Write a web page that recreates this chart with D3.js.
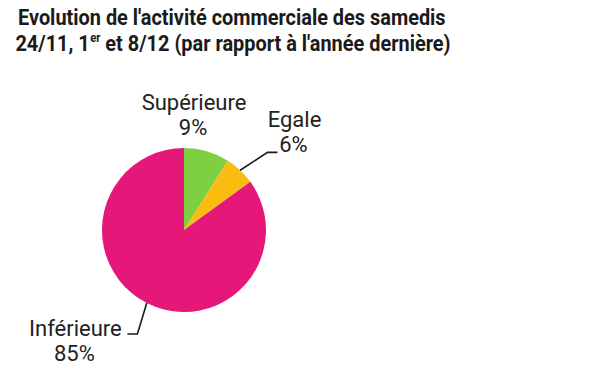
<!DOCTYPE html>
<html>
<head>
<meta charset="utf-8">
<script src="https://cdn.jsdelivr.net/npm/d3@7"></script>
<style>
  body { margin: 0; background: #fff; }
  svg { display: block; font-family: Roboto, "Noto Sans", sans-serif; }
  text { white-space: pre; }
</style>
</head>
<body>
<div class="chart"></div>
<script>
const categories = ['Supérieure', 'Egale', 'Inférieure'];
const values = [9, 6, 85];
const colors = ['#7fd041', '#fbbc12', '#e5187a'];

const w = 600, h = 372;
const r = 82;
const cx = 184, cy = 230;

const svg = d3.select('.chart').append('svg').attr('width', w).attr('height', h);
svg.append('rect').attr('width', w).attr('height', h).attr('fill', '#fff');

// title: two lines, squeezed horizontally to the original width
const title = svg.append('g').attr('font-weight', 700).attr('font-size', 23).attr('fill', '#1a1a1a');
const line1 = title.append('text').attr('x', 0).attr('y', 25)
  .text("Evolution de l'activité commerciale des samedis");
const sx = 428 / line1.node().getComputedTextLength();
title.attr('transform', `translate(18,0) scale(${sx},1)`);

let x2 = -3;
const a = title.append('text').attr('x', x2).attr('y', 51).text('24/11, 1');
x2 += a.node().getComputedTextLength() + 0.5;
const sup = title.append('text').attr('x', x2).attr('y', 42).attr('font-size', 13).text('er');
x2 += sup.node().getComputedTextLength();
title.append('text').attr('x', x2).attr('y', 51).text(" et 8/12 (par rapport à l'année dernière)");

const data = categories.map((c, i) => ({ label: c, value: values[i], color: colors[i] }));

const pie = d3.pie().sort(null).value(d => d.value);
const arc = d3.arc().innerRadius(0).outerRadius(r);
const edge = d3.arc().innerRadius(r).outerRadius(r);
const outer = d3.arc().innerRadius(r + 32).outerRadius(r + 32);

const g = svg.append('g').attr('transform', `translate(${cx},${cy})`);
const arcs = pie(data);

g.selectAll('path.slice')
  .data(arcs)
  .enter().append('path')
  .attr('class', 'slice')
  .attr('fill', d => d.data.color)
  .attr('d', arc);

// label layout per slice: leader line or not, and text offsets
const labelCfg = {
  'Supérieure': { line: false, dx: 10, dy: -120 },
  'Egale': { line: true, side: 1, angleShift: 0.068, tx: 17, ty: -25 },
  'Inférieure': { line: true, side: -1, angleShift: -0.05, tx: -52, ty: 2 }
};

arcs.forEach(d => {
  const cfg = labelCfg[d.data.label];
  const mid = (d.startAngle + d.endAngle) / 2;
  const lbl = g.append('g').attr('font-size', 22).attr('fill', '#222').attr('text-anchor', 'middle');
  let lx, ly;
  if (!cfg.line) {
    lx = cfg.dx;
    ly = cfg.dy;
  } else {
    const p0 = edge.centroid(d);
    const ang = mid + cfg.angleShift;
    const p1 = outer.centroid({ startAngle: ang, endAngle: ang });
    const p2 = [p1[0] + cfg.side * 10, p1[1]];
    g.append('polyline')
      .attr('points', [p0, p1, p2].map(p => p.join(',')).join(' '))
      .attr('fill', 'none').attr('stroke', '#1a1a1a').attr('stroke-width', 1.6);
    lx = p2[0] + cfg.tx;
    ly = p2[1] + cfg.ty;
  }
  lbl.append('text').attr('x', lx).attr('y', ly).text(d.data.label);
  lbl.append('text').attr('x', lx - 1).attr('y', ly + 25).text(d.data.value + '%');
});
</script>
</body>
</html>
